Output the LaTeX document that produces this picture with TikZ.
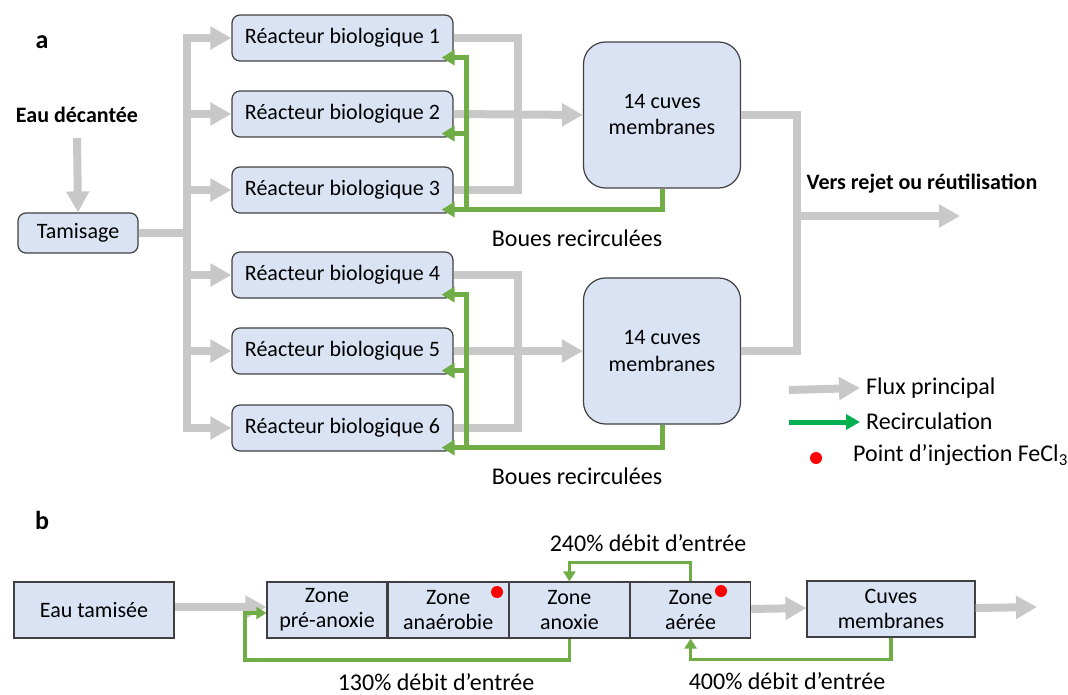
\documentclass[tikz,border=0pt]{standalone}
\usepackage{fontspec}
\setmainfont{Carlito}
\usetikzlibrary{arrows.meta,positioning}
\definecolor{boxblue}{HTML}{DAE3F3}
\definecolor{boxline}{HTML}{404040}
\definecolor{flowgray}{HTML}{C8C8C8}
\definecolor{recgreen}{HTML}{70AD47}
\definecolor{leggreen}{HTML}{00B050}
\tikzset{box/.style={draw=boxline,fill=boxblue,line width=1.2pt,rounded corners=8pt,align=center,inner sep=0pt,font=\fontsize{22}{25}\selectfont},
  reac/.style={box,minimum width=221pt,minimum height=46pt},
  memb/.style={box,rounded corners=22pt,minimum width=157pt,minimum height=146pt,font=\fontsize{22}{26}\selectfont},
  zone/.style={box,rounded corners=0pt,minimum width=120pt,minimum height=56pt},
  lbl/.style={inner sep=0pt,font=\fontsize{24}{28}\selectfont},
  blbl/.style={inner sep=0pt,font=\fontsize{22}{26}\selectfont\bfseries},
  flow/.style={flowgray,line width=8pt},
  flowarr/.style={flow,-{Triangle[length=21pt,width=22pt]}},
  rec/.style={recgreen,line width=5pt},
  recarr/.style={rec,-{Triangle[length=13pt,width=15pt]}},
  loop/.style={recgreen,line width=3.5pt,-{Triangle[length=10pt,width=12pt]}},
  dot/.style={circle,fill=red,inner sep=0pt,minimum size=12pt}}

\begin{document}
\begin{tikzpicture}[x=1pt,y=-1pt]
\useasboundingbox (0,0) rectangle (1068,695);

% partie a
\node[blbl,font=\fontsize{26}{30}\selectfont\bfseries] (lbla) at (42,42) {a};
\node[blbl] (eau) at (77,115) {Eau décantée};
\node[box,minimum width=120pt,minimum height=40pt] (tam) at (78,233) {Tamisage};
\foreach \i/\y in {1/38,2/114,3/190,4/275,5/351,6/428}
  \node[reac] (r\i) at (342.5,\y) {Réacteur biologique \i};
\node[memb] (m1) at (662,115) {14 cuves\\membranes};
\node[memb] (m2) at (662,351) {14 cuves\\membranes};
\node[lbl] (boue1) at (577,238) {Boues recirculées};
\node[lbl] (boue2) at (577,476) {Boues recirculées};
\node[blbl] (rejet) at (922,184) {Vers rejet ou réutilisation};

\coordinate (split) at (187,233);
\coordinate (j1) at (518,114);
\coordinate (j2) at (518,351);
\coordinate (out) at (797,216);
\coordinate (outend) at (960,216);
\coordinate (bus1) at (466,209);
\coordinate (bus2) at (466,445);

\draw[flowarr] ([yshift=-15pt]eau.south) -- (tam.north);
\draw[flow] (tam.east) -- (split);
\foreach \i in {1,...,6}
  \draw[flowarr] (split) |- (r\i.west);
\draw[flow] (r1.east) -| (j1) |- (r3.east);
\draw[flow] (r4.east) -| (j2) |- (r6.east);
\draw[flowarr] (r2.east) -- (m1.west);
\draw[flowarr] (r5.east) -- (m2.west);
\draw[flow] (m1.east) -| (out) |- (m2.east);
\draw[flowarr] (out) -- (outend);

\draw[recarr] (m1.south) |- ([shift={(-12pt,4pt)}]r3.south east);
\foreach \i in {1,2}
  \draw[recarr] (bus1) |- ([shift={(-12pt,4pt)}]r\i.south east);
\draw[recarr] (m2.south) |- ([shift={(-12pt,4pt)}]r6.south east);
\foreach \i in {4,5}
  \draw[recarr] (bus2) |- ([shift={(-12pt,4pt)}]r\i.south east);

% legende
\node[lbl,anchor=west] (lg1) at (866,388) {Flux principal};
\node[lbl,anchor=west] (lg2) at (866,421) {Recirculation};
\node[lbl,anchor=west] (lg3) at (853,455) {Point d’injection FeCl\textsubscript{3}};
\node[dot] (lgdot) at (816,458) {};
\coordinate (lg1a) at (789,390);
\coordinate (lg2a) at (789,422);
\draw[flowarr] (lg1a) -- ([xshift=-6pt]lg1.west);
\draw[leggreen,line width=5pt,-{Triangle[length=14pt,width=15pt]}] (lg2a) -- ([xshift=-6pt,yshift=-1pt]lg2.west);

% partie b
\node[blbl,font=\fontsize{26}{30}\selectfont\bfseries] (lblb) at (42,520) {b};
\node[zone,minimum width=160pt] (eaut) at (94,610) {Eau tamisée};
\node[zone] (z1) at (327,610) {Zone\\pré-anoxie};
\node[zone,right=0pt of z1] (z2) {Zone\\anaérobie};
\node[zone,right=0pt of z2] (z3) {Zone\\anoxie};
\node[zone,right=0pt of z3] (z4) {Zone\\aérée};
\node[zone,minimum width=168pt] (cuv) at (891,609) {Cuves\\membranes};
\node[dot] (dot1) at (497,592) {};
\node[dot] (dot2) at (721,591) {};
\node[lbl] (d240) at (648,543) {240\% débit d’entrée};
\node[lbl] (d130) at (436,682) {130\% débit d’entrée};
\node[lbl] (d400) at (787,681) {400\% débit d’entrée};
\coordinate (outb) at (1037,607);

\draw[flowarr] ([yshift=3pt]eaut.east) -- ([yshift=3pt]z1.west);
\draw[flowarr] ([yshift=1pt]z4.east) -- ([yshift=1pt]cuv.west);
\draw[flowarr] ([yshift=1pt]cuv.east) -- (outb);
\draw[loop] (z3.south) |- (245,660) |- ([yshift=-3pt]z1.west);
\draw[loop] (z4.north) -- ++(0,-19) -| (z3.north);
\draw[loop] (cuv.south) -- ++(0,22) -| (z4.south);
\end{tikzpicture}
\end{document}
